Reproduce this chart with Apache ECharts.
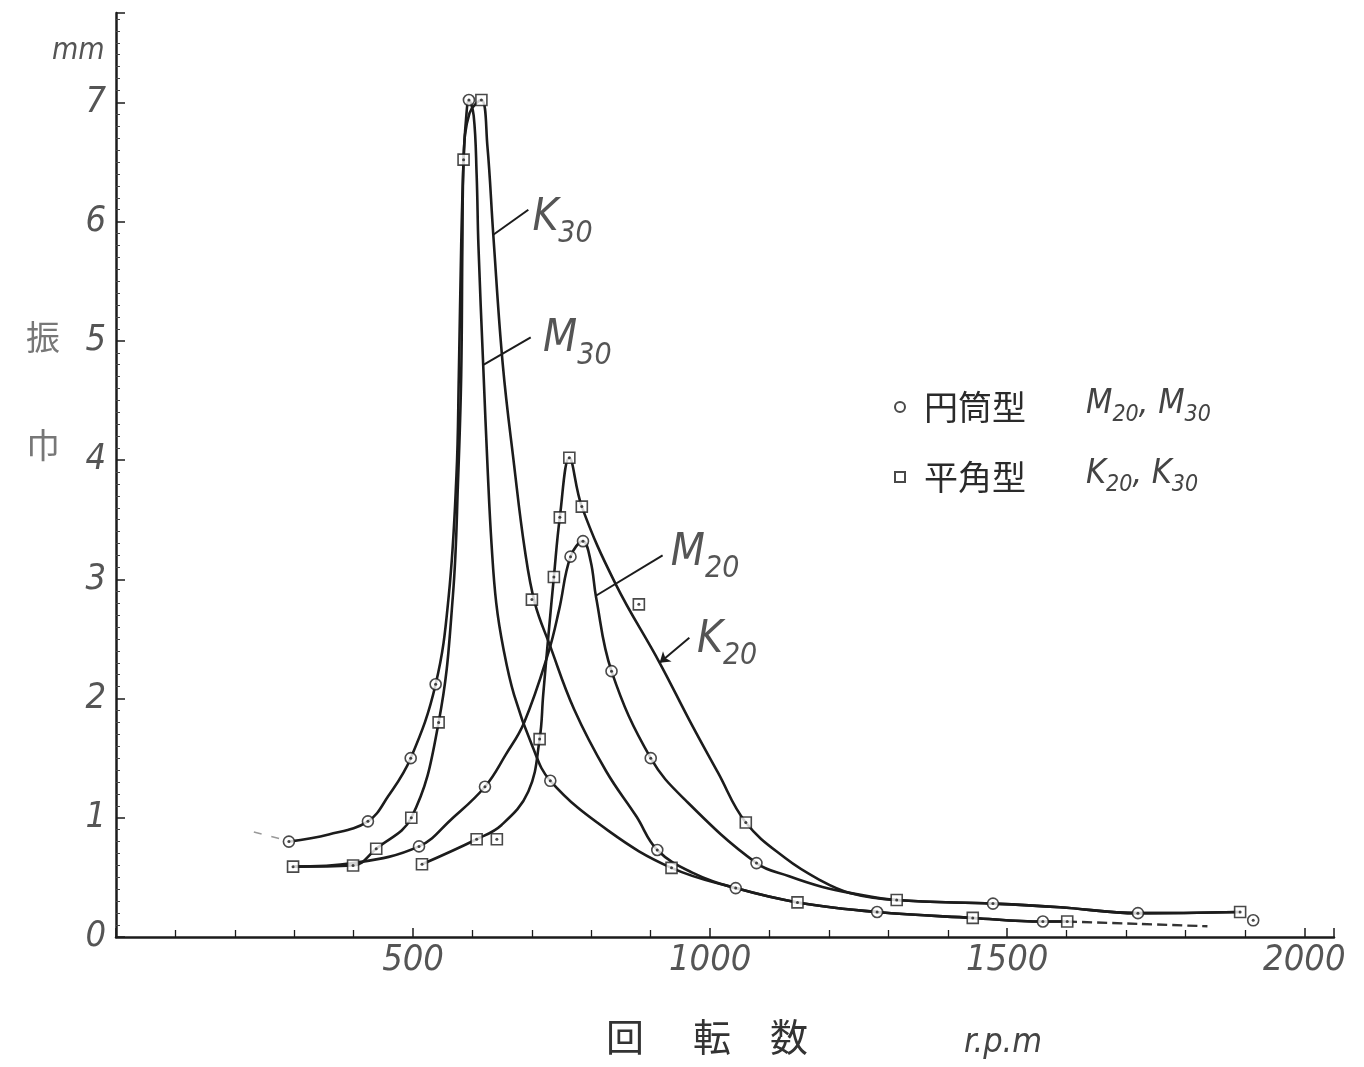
<!DOCTYPE html>
<html>
<head>
<meta charset="utf-8">
<script src="https://cdn.jsdelivr.net/npm/echarts@6/dist/echarts.min.js"></script>
<style>
html,body{margin:0;padding:0;background:#ffffff;}
#chart{width:1364px;height:1067px;}
</style>
</head>
<body>
<div id="chart"></div>
<script>
// ---- data (x: r.p.m, y: mm) ----
const xTickLabels = ['500', '1000', '1500', '2000'];
const yTickLabels = ['0', '1', '2', '3', '4', '5', '6', '7'];

// curves
const m30Curve = [[291,0.80],[358,0.86],[424,0.97],[458,1.18],[496,1.50],[538,2.12],[560,2.86],[573,3.87],[577,4.71],[581,5.80],[585,6.52],[589,6.85],[594,7.02],[602,6.89],[607,6.39],[610,5.80],[618,4.80],[626,3.87],[632,3.30],[640,2.80],[652,2.42],[670,2.03],[700,1.61],[731,1.31],[829,0.89],[935,0.58],[1043,0.41],[1147,0.29],[1281,0.21],[1442,0.16],[1560,0.13],[1601,0.13]];
const k30Curve = [[298,0.59],[399,0.60],[438,0.74],[497,1.00],[543,1.80],[567,2.86],[576,3.87],[581,4.71],[583,5.80],[585,6.52],[595,6.91],[615,7.02],[625,6.64],[635,5.89],[651,4.80],[670,3.96],[688,3.25],[705,2.80],[730,2.45],[771,1.91],[825,1.39],[876,1.01],[911,0.73],[970,0.54],[1043,0.41],[1147,0.29],[1281,0.21],[1442,0.16],[1560,0.13],[1601,0.13]];
const m20Curve = [[298,0.59],[399,0.62],[510,0.76],[565,0.99],[621,1.26],[656,1.53],[687,1.80],[728,2.39],[746,2.75],[765,3.19],[786,3.32],[799,3.15],[808,2.85],[834,2.23],[900,1.50],[958,1.15],[1078,0.62],[1133,0.51],[1189,0.42],[1235,0.37],[1314,0.31],[1476,0.28],[1589,0.25],[1720,0.20],[1892,0.21]];
const k20Curve = [[515,0.61],[607,0.82],[649,0.94],[694,1.22],[713,1.66],[719,2.03],[728,2.54],[737,3.02],[747,3.52],[763,4.02],[784,3.61],[841,2.96],[915,2.30],[967,1.80],[1013,1.38],[1060,0.96],[1127,0.66],[1184,0.48],[1235,0.37],[1314,0.31],[1476,0.28],[1589,0.25],[1720,0.20],[1892,0.21]];
const lowerTailDashed = [[1601,0.13],[1720,0.11],[1837,0.09]];
const m30LeftDashed = [[232,0.88],[280,0.82]];

// measured points: circles = 円筒型 (M20, M30), squares = 平角型 (K20, K30)
const circlePoints = [[291,0.80],[424,0.97],[496,1.50],[538,2.12],[594,7.02],[731,1.31],[911,0.73],[1043,0.41],[1281,0.21],[1560,0.13],[510,0.76],[621,1.26],[765,3.19],[786,3.32],[834,2.23],[900,1.50],[1078,0.62],[1476,0.28],[1720,0.20],[1914,0.14]];
const squarePoints = [[298,0.59],[399,0.60],[438,0.74],[497,1.00],[543,1.80],[585,6.52],[615,7.02],[700,2.83],[935,0.58],[1147,0.29],[1442,0.16],[1601,0.13],[515,0.61],[607,0.82],[641,0.82],[713,1.66],[737,3.02],[747,3.52],[763,4.02],[784,3.61],[880,2.79],[1060,0.96],[1314,0.31],[1892,0.21]];

// curve annotations: [x, y, letter, subscript]
const curveLabels = [[700,5.99,'K','30'],[718,4.97,'M','30'],[933,3.18,'M','20'],[977,2.45,'K','20']];
// leader lines: [xOnCurve, yOnCurve, xEnd, yEnd]
const leaders = [[635,5.89,694,6.10],[619,4.80,698,5.03],[807,2.86,920,3.20]];
const arrowLeaders = [[915,2.30,965,2.51]];

const legendNames = ['円筒型', '平角型'];
const legendSubs = {'円筒型': ['M','20','M','30'], '平角型': ['K','20','K','30']};

// ---- chart ----
const ink = '#1c1c1c';
const labelFont = "'DejaVu Sans Condensed','Liberation Sans Narrow','Liberation Sans',sans-serif";
const chart = echarts.init(document.getElementById('chart'), null, {renderer: 'canvas'});

function curve(name, data) {
  return {
    name: name, type: 'line', data: data, symbol: 'none', smooth: 0.4,
    lineStyle: {color: ink, width: 2.6}, silent: true, z: 2
  };
}

const option = {
  backgroundColor: '#ffffff',
  animation: false,
  grid: {left: 116, top: 13, width: 1218, height: 924, containLabel: false},
  xAxis: {
    type: 'value', min: 0, max: 2050, interval: 500,
    axisLine: {show: true, onZero: false, lineStyle: {color: ink, width: 2.5}},
    axisTick: {show: true, inside: true, length: 9, lineStyle: {color: ink, width: 1.5}},
    minorTick: {show: true, splitNumber: 5, length: 7, lineStyle: {color: ink, width: 1.3}},
    splitLine: {show: false},
    axisLabel: {
      margin: 6, color: '#555', fontStyle: 'italic', fontFamily: labelFont, fontSize: 36,
      formatter: v => xTickLabels.indexOf(String(v)) >= 0 ? String(v) : ''
    }
  },
  yAxis: {
    type: 'value', min: 0, max: 7.75, interval: 1,
    axisLine: {show: true, lineStyle: {color: ink, width: 2.5}},
    axisTick: {show: true, inside: true, length: 9, lineStyle: {color: ink, width: 1.5}},
    minorTick: {show: true, splitNumber: 10, length: 4, lineStyle: {color: '#444', width: 1}},
    splitLine: {show: false},
    axisLabel: {
      margin: 10, color: '#555', fontStyle: 'italic', fontFamily: labelFont, fontSize: 36,
      formatter: v => yTickLabels.indexOf(String(v)) >= 0 ? String(v) : ''
    }
  },
  legend: {
    data: legendNames, orient: 'vertical', left: 889, top: 382,
    itemWidth: 10, itemHeight: 10, itemGap: 30,
    textStyle: {
      fontFamily: "'Noto Sans CJK JP'", fontSize: 34, color: '#2a2a2a', padding: [0, 0, 0, 14],
      rich: {
        i: {fontFamily: labelFont, fontStyle: 'italic', fontSize: 34, color: '#444', verticalAlign: 'bottom', padding: [0,0,6,0]},
        s: {fontFamily: labelFont, fontStyle: 'italic', fontSize: 23, color: '#444', verticalAlign: 'bottom'},
        sp: {width: 60}
      }
    },
    formatter: name => {
      const s = legendSubs[name];
      return name + '{sp|}{i|' + s[0] + '}{s|' + s[1] + '}{i|, ' + s[2] + '}{s|' + s[3] + '}';
    }
  },
  series: [
    curve('M30', m30Curve),
    curve('K30', k30Curve),
    curve('M20', m20Curve),
    curve('K20', k20Curve),
    {
      name: 'tail', type: 'line', data: lowerTailDashed, symbol: 'none', smooth: 0.3,
      lineStyle: {color: '#333', width: 2.4, type: [10, 5]}, silent: true, z: 2
    },
    {
      name: 'leftDash', type: 'line', data: m30LeftDashed, symbol: 'none',
      lineStyle: {color: '#999', width: 1.5, type: [8, 10]}, silent: true, z: 2
    },
    {
      name: '円筒型', type: 'scatter', data: circlePoints, symbol: 'circle', symbolSize: 11,
      itemStyle: {color: '#ffffff', borderColor: ink, borderWidth: 1.6}, z: 5
    },
    {
      name: '平角型', type: 'scatter', data: squarePoints, symbol: 'rect', symbolSize: 11,
      itemStyle: {color: '#ffffff', borderColor: ink, borderWidth: 1.6}, z: 5
    },
    {
      name: 'dots', type: 'scatter', data: circlePoints.concat(squarePoints), symbol: 'circle', symbolSize: 3,
      itemStyle: {color: ink}, z: 6, silent: true
    },
    {
      name: 'leaders', type: 'lines', coordinateSystem: 'cartesian2d', polyline: false,
      data: leaders.map(l => ({coords: [[l[0], l[1]], [l[2], l[3]]]})),
      symbol: 'none', lineStyle: {color: ink, width: 2, opacity: 1}, silent: true, z: 3
    },
    {
      name: 'arrowLeaders', type: 'lines', coordinateSystem: 'cartesian2d', polyline: false,
      data: arrowLeaders.map(l => ({coords: [[l[0], l[1]], [l[2], l[3]]]})),
      symbol: ['arrow', 'none'], symbolSize: 10,
      lineStyle: {color: ink, width: 2, opacity: 1}, silent: true, z: 3
    },
    {
      name: 'curveLabels', type: 'scatter', data: curveLabels, symbol: 'circle', symbolSize: 1,
      itemStyle: {color: 'rgba(0,0,0,0)'}, silent: true, z: 7,
      label: {
        show: true, position: 'right', distance: 0,
        formatter: p => '{b|' + p.data[2] + '}{s|' + p.data[3] + '}',
        rich: {
          b: {fontFamily: labelFont, fontStyle: 'italic', fontSize: 44, color: '#2a2a2a', verticalAlign: 'bottom', padding: [0,0,9,0]},
          s: {fontFamily: labelFont, fontStyle: 'italic', fontSize: 30, color: '#2a2a2a', verticalAlign: 'bottom'}
        }
      }
    }
  ],
  graphic: [
    {type: 'text', left: 52, top: 36, style: {text: 'mm', font: "italic 30px 'DejaVu Sans Condensed','Liberation Sans'", fill: '#555'}},
    {type: 'text', left: 26, top: 320, style: {text: '振', font: "34px 'Noto Sans CJK JP'", fill: '#777'}},
    {type: 'text', left: 26, top: 428, style: {text: '巾', font: "34px 'Noto Sans CJK JP'", fill: '#777'}},
    {type: 'text', left: 606, top: 1018, style: {text: '回', font: "38px 'Noto Sans CJK JP'", fill: '#333'}},
    {type: 'text', left: 693, top: 1018, style: {text: '転', font: "38px 'Noto Sans CJK JP'", fill: '#333'}},
    {type: 'text', left: 770, top: 1018, style: {text: '数', font: "38px 'Noto Sans CJK JP'", fill: '#333'}},
    {type: 'text', left: 964, top: 1026, style: {text: 'r.p.m', font: "italic 34px 'DejaVu Sans Condensed','Liberation Sans'", fill: '#444'}}
  ]
};
chart.setOption(option);
</script>
</body>
</html>
